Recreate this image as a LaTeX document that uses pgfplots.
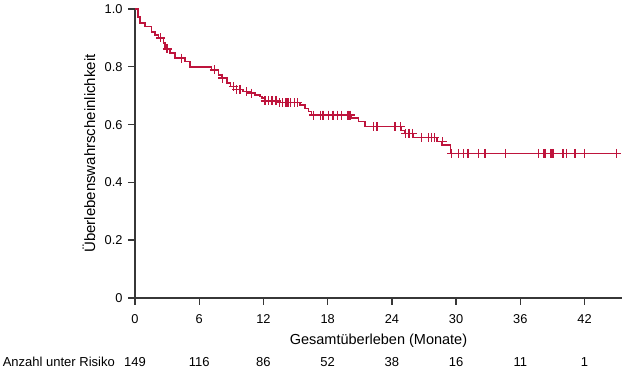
\documentclass[border=0pt]{standalone}
\usepackage{pgfplots}
\pgfplotsset{compat=1.18}
\usepackage{fontspec}
\setmainfont{Liberation Sans}
\definecolor{km}{RGB}{190,20,60}
\definecolor{axc}{RGB}{55,55,55}
\protected\def\xlab{Gesamtüberleben (Monate)}
\protected\def\ylab{Überlebenswahrscheinlichkeit}
\begin{document}
\fontsize{13}{15}\selectfont
\begin{tikzpicture}
\begin{axis}[name=ax,
  scale only axis, width=487pt, height=289pt,
  xmin=0, xmax=45.5, ymin=0, ymax=1.0,
  axis lines=left, axis line style={-, line width=1.7pt, axc},
  tick style={line width=1.4pt, axc},
  tick align=outside, major tick length=7pt,
  xtick={0,6,12,18,24,30,36,42},
  ytick={0,0.2,0.4,0.6,0.8,1.0},
  yticklabels={0,0.2,0.4,0.6,0.8,1.0},
  /pgf/number format/assume math mode=true,
  xticklabel style={font=\fontsize{12.8}{14}\selectfont, anchor=base, yshift=-18.5pt},
  yticklabel style={font=\fontsize{12.8}{14}\selectfont, xshift=-1pt},
  xlabel={\xlab},
  ylabel={\ylab},
  xlabel style={at={(rel axis cs:0.5,0)}, anchor=base, yshift=-46.5pt, font=\fontsize{14.5}{16}\selectfont},
  ylabel style={at={(rel axis cs:0,0.5)}, anchor=center, yshift=46pt, font=\fontsize{15}{17}\selectfont},
  clip=false,
]
\addplot[const plot, km, line width=1.5pt] coordinates {
(0,1.0) (0.3,0.973) (0.47,0.952) (0.94,0.939) (1.56,0.921) (1.87,0.910)
(2.18,0.900) (2.65,0.882) (2.8,0.862) (3.27,0.848) (3.74,0.830) (4.68,0.818)
(5.14,0.800) (7.17,0.789) (7.8,0.772) (8.1,0.761) (8.58,0.744) (8.9,0.731)
(9.5,0.722) (10.1,0.714) (10.6,0.709) (11.2,0.702) (11.7,0.697) (11.85,0.692)
(12.15,0.682) (13.4,0.676) (15.4,0.668) (15.9,0.656) (16.2,0.645) (16.5,0.633)
(20.25,0.622) (20.9,0.610) (21.5,0.593) (24.9,0.580) (25.2,0.570) (26.0,0.556)
(28.2,0.541) (28.7,0.529) (29.5,0.500) (45.0,0.500)
};
\addplot[only marks, km, mark=+, mark size=4.5pt, line width=1.3pt] coordinates {
(2.4,0.900) (3.0,0.862) (4.37,0.830) (7.4,0.789) (8.2,0.761)
(9.2,0.731) (9.5,0.722) (9.8,0.722) (10.4,0.714) (10.9,0.709)
(12.15,0.682) (12.45,0.682) (12.8,0.682) (13.1,0.682) (13.25,0.682)
(13.5,0.676) (13.8,0.676) (14.1,0.676) (14.3,0.676) (14.5,0.676) (14.9,0.676) (15.2,0.676)
(16.7,0.633) (17.3,0.633) (17.5,0.633) (17.6,0.633) (18.1,0.633) (18.5,0.633)
(18.9,0.633) (19.3,0.633) (19.9,0.633) (20.1,0.633)
(22.3,0.593) (22.6,0.593) (24.3,0.593) (24.8,0.593)
(25.3,0.570) (25.6,0.570) (25.9,0.570)
(26.8,0.556) (27.4,0.556) (27.7,0.556) (28.0,0.556) (28.7,0.541)
(29.6,0.5) (30.2,0.5) (30.7,0.5) (31.1,0.5) (32.1,0.5) (32.7,0.5) (34.6,0.5)
(37.7,0.5) (38.2,0.5) (38.35,0.5) (38.8,0.5) (38.95,0.5) (39.1,0.5)
(40.0,0.5) (40.3,0.5) (41.1,0.5) (42.0,0.5) (45.0,0.5)
};
\node[anchor=base east, inner sep=0pt] at ([xshift=-20pt,yshift=-69pt]axis cs:0,0) {Anzahl unter Risiko};
\node[anchor=base] at ([yshift=-69pt]axis cs:0,0) {149};
\node[anchor=base] at ([yshift=-69pt]axis cs:6,0) {116};
\node[anchor=base] at ([yshift=-69pt]axis cs:12,0) {86};
\node[anchor=base] at ([yshift=-69pt]axis cs:18,0) {52};
\node[anchor=base] at ([yshift=-69pt]axis cs:24,0) {38};
\node[anchor=base] at ([yshift=-69pt]axis cs:30,0) {16};
\node[anchor=base] at ([yshift=-69pt]axis cs:36,0) {11};
\node[anchor=base] at ([yshift=-69pt]axis cs:42,0) {1};
\end{axis}
\path ([shift={(-135pt,-72pt)}]ax.origin) rectangle ++(633pt,370pt);
\end{tikzpicture}
\end{document}
